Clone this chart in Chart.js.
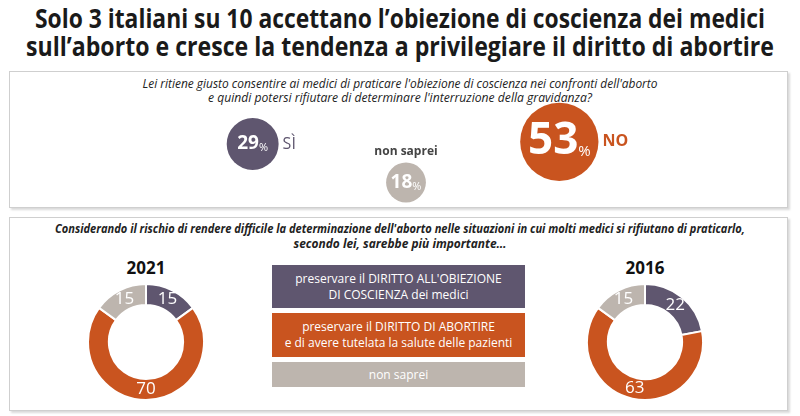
<!DOCTYPE html>
<html>
<head>
<meta charset="utf-8">
<script src="https://cdn.jsdelivr.net/npm/chart.js@4"></script>
<style>
  body { margin: 0; background: #fff; width: 800px; height: 416px; overflow: hidden; position: relative;
         font-family: "Open Sans", sans-serif; }
  .line { position: absolute; left: 0; width: 800px; height: 30px; white-space: nowrap; }
  .line span { position: absolute; left: 400px; top: 0; transform-origin: 0 50%; }
  .title { font-weight: bold; font-size: 27px; line-height: 30px; color: #1a1a1a; }
  .panel { position: absolute; border: 1px solid #cfcfcf; box-shadow: 2px 2px 2px rgba(0,0,0,0.15); background: #fff; }
  .q { font-style: italic; font-size: 12px; line-height: 14px; color: #222; }
  .box { position: absolute; left: 272px; width: 253px; color: #fff; text-align: center; font-size: 12px;
         line-height: 16px; display: flex; align-items: center; justify-content: center; }
  .year { position: absolute; width: 120px; text-align: center; font-weight: bold; font-size: 17px; color: #111; }
  canvas { position: absolute; }
</style>
</head>
<body>
<div class="line title" style="top:3px;"><span data-w="730">Solo 3 italiani su 10 accettano l’obiezione di coscienza dei medici</span></div>
<div class="line title" style="top:31px;"><span data-w="748">sull’aborto e cresce la tendenza a privilegiare il diritto di abortire</span></div>

<div class="panel" style="left:9px; top:71px; width:777px; height:135px;"></div>
<div class="line q" style="top:77px;"><span data-w="515">Lei ritiene giusto consentire ai medici di praticare l'obiezione di coscienza nei confronti dell'aborto</span></div>
<div class="line q" style="top:91px;"><span data-w="384">e quindi potersi rifiutare di determinare l'interruzione della gravidanza?</span></div>
<canvas id="bubbles" width="460" height="110" style="left:176px; top:100px;"></canvas>

<div class="panel" style="left:9px; top:217px; width:777px; height:192px;"></div>
<div class="line q" style="top:222px; font-weight:bold;"><span data-w="690">Considerando il rischio di rendere difficile la determinazione dell'aborto nelle situazioni in cui molti medici si rifiutano di praticarlo,</span></div>
<div class="line q" style="top:237px; font-weight:bold;"><span data-w="213">secondo lei, sarebbe più importante…</span></div>

<div class="year" style="left:86px; top:256px;">2021</div>
<div class="year" style="left:585px; top:256px;">2016</div>
<canvas id="d2021" width="118" height="118" style="left:87px; top:283px;"></canvas>
<canvas id="d2016" width="118" height="118" style="left:586px; top:283px;"></canvas>

<div class="box" style="top:265px; height:43px; background:#5f566f;">preservare il DIRITTO ALL'OBIEZIONE<br>DI COSCIENZA dei medici</div>
<div class="box" style="top:313px; height:44px; background:#c9541f;">preservare il DIRITTO DI ABORTIRE<br>e di avere tutelata la salute delle pazienti</div>
<div class="box" style="top:362px; height:25px; background:#bdb5ae;">non saprei</div>

<script>
// domanda 1
var answers = ['SÌ', 'non saprei', 'NO'];
var answerValues = [29, 18, 53];

// domanda 2
var choices = ['diritto all\'obiezione', 'diritto di abortire', 'non saprei'];
var values2021 = [15, 70, 15];
var values2016 = [22, 63, 15];

var colors = ['#5f566f', '#c9541f', '#bdb5ae'];
// vertical level of each bubble in the panel (layout only)
var bubbleLevel = [0.6, 0.25, 0.62];

// squeeze the text lines to the widths of the original (condensed font)
document.querySelectorAll('.line span').forEach(function(s) {
  var w = s.getBoundingClientRect().width;
  s.style.transform = 'scaleX(' + (+s.dataset.w / w) + ') translateX(-50%)';
});

var bubbleLabels = {
  id: 'bubbleLabels',
  afterDatasetsDraw: function(chart) {
    var c = chart.ctx;
    var meta = chart.getDatasetMeta(0);
    c.save();
    c.textBaseline = 'middle';
    meta.data.forEach(function(pt, i) {
      var v = answerValues[i];
      var big = v > 40 ? 44 : 19;
      var small = v > 40 ? 15 : 11;
      c.font = 'bold ' + big + 'px "Open Sans", sans-serif';
      var w1 = c.measureText(String(v)).width;
      c.font = small + 'px "Open Sans", sans-serif';
      var w2 = c.measureText('%').width;
      var x0 = pt.x - (w1 + w2) / 2;
      c.fillStyle = '#fff';
      c.textAlign = 'left';
      c.font = 'bold ' + big + 'px "Open Sans", sans-serif';
      c.fillText(String(v), x0, pt.y);
      c.font = small + 'px "Open Sans", sans-serif';
      c.fillText('%', x0 + w1, pt.y + big * 0.22);
      var r = pt.options.radius;
      c.fillStyle = i === 1 ? '#444' : colors[i === 0 ? 0 : 1];
      if (i === 1) {
        c.textAlign = 'center';
        c.font = 'bold 12px "Open Sans", sans-serif';
        c.fillText(answers[i], pt.x, pt.y - r - 11);
      } else {
        c.textAlign = 'left';
        c.font = (i === 2 ? 'bold ' : '') + '16px "Open Sans", sans-serif';
        c.fillText(answers[i], pt.x + r + 4, pt.y);
      }
    });
    c.restore();
  }
};

new Chart(document.getElementById('bubbles'), {
  type: 'bubble',
  data: {
    labels: answers,
    datasets: [{
      data: answerValues.map(function(v, i) {
        return { x: answers[i], y: bubbleLevel[i], r: 10 + 0.55 * v };
      }),
      backgroundColor: [colors[0], colors[2], colors[1]],
      borderWidth: 0,
      clip: false
    }]
  },
  options: {
    responsive: false,
    animation: false,
    layout: { padding: 0, autoPadding: false },
    plugins: { legend: { display: false }, tooltip: { enabled: false } },
    scales: {
      x: { type: 'category', offset: true, display: false },
      y: { min: 0, max: 1, display: false }
    }
  },
  plugins: [bubbleLabels]
});

var donutLabels = {
  id: 'donutLabels',
  afterDatasetsDraw: function(chart) {
    var c = chart.ctx;
    var meta = chart.getDatasetMeta(0);
    var vals = chart.data.datasets[0].data;
    c.save();
    c.fillStyle = '#fff';
    c.textAlign = 'center';
    c.textBaseline = 'middle';
    c.font = '17px "Open Sans", sans-serif';
    meta.data.forEach(function(arc, i) {
      var p = arc.tooltipPosition();
      c.fillText(String(vals[i]), p.x, p.y);
    });
    c.restore();
  }
};

function donut(id, vals) {
  new Chart(document.getElementById(id), {
    type: 'doughnut',
    data: {
      labels: choices,
      datasets: [{
        data: vals,
        backgroundColor: colors,
        borderColor: '#fff',
        borderWidth: 2
      }]
    },
    options: {
      responsive: false,
      animation: false,
      cutout: '64%',
      layout: { padding: 0 },
      plugins: { legend: { display: false }, tooltip: { enabled: false } }
    },
    plugins: [donutLabels]
  });
}

donut('d2021', values2021);
donut('d2016', values2016);
</script>
</body>
</html>
